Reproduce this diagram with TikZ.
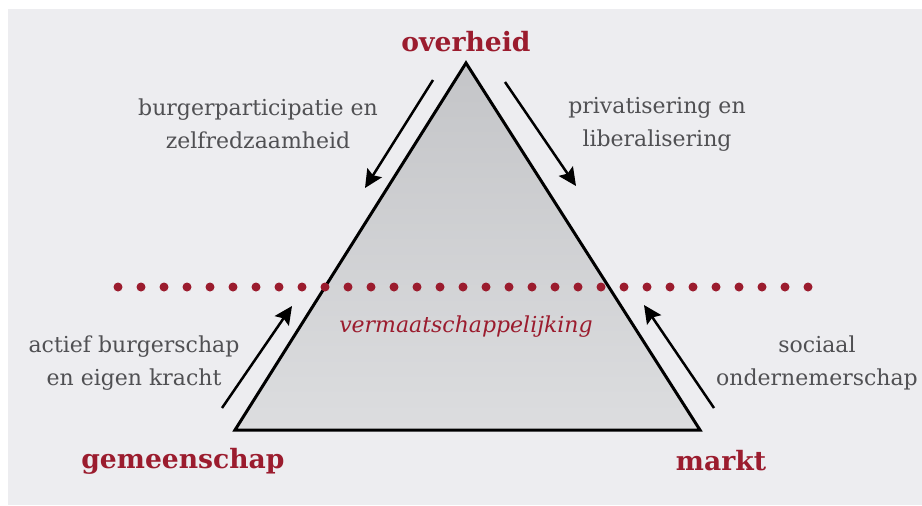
\documentclass[tikz,border=0pt]{standalone}
\usepackage{fontspec}
\setmainfont{DejaVu Serif}
\usetikzlibrary{arrows.meta}

\definecolor{bgray}{HTML}{EDEDF0}
\definecolor{wine}{HTML}{9B1C2E}
\definecolor{txtgray}{HTML}{505053}
\definecolor{tritop}{HTML}{C4C5C8}
\definecolor{tribot}{HTML}{DCDDDF}

\tikzset{
  pole/.style={text=wine, font=\fontsize{13.3}{16}\selectfont\bfseries},
  trend/.style={text=txtgray, font=\fontsize{11}{16.5}\selectfont, align=center},
  shift arrow/.style={line width=1.25pt, -{Stealth[length=9pt,width=8.5pt,inset=1.5pt]}},
  dot/.style={fill=wine}
}

\begin{document}
\begin{tikzpicture}[x=0.5pt,y=-0.5pt]
    % Canvas with white margin
    \useasboundingbox (0,0) rectangle (922,505);
    \fill[white] (0,0) rectangle (922,505);
    \fill[bgray] (8,9) rectangle (922,505);

    % Corners of the triangle
    \coordinate (top) at (466,63);
    \coordinate (left) at (235,430);
    \coordinate (right) at (700,430);

    % The triangle
    \shade[top color=tritop, bottom color=tribot] (top) -- (left) -- (right) -- cycle;
    \draw[line width=1.5pt, line join=miter] (top) -- (left) -- (right) -- cycle;

    % Dotted line across
    \foreach \i in {0,...,30}
        \fill[dot] (118+23*\i,287) circle (4.5);

    % Labels at the corners
    \node[pole] (overheid) at (466,42) {overheid};
    \node[pole] (gemeenschap) at (183,461) {gemeenschap};
    \node[pole] (markt) at (721,461) {markt};

    % Labels along the sides
    \node[trend] (burger) at (258,124) {burgerparticipatie en\\zelfredzaamheid};
    \node[trend] (privat) at (657,124) {privatisering en\\liberalisering};
    \node[trend] (actief) at (134,363) {actief burgerschap\\en eigen kracht};
    \node[trend] (sociaal) at (817,363) {sociaal\\ondernemerschap};
    \node[text=wine, font=\fontsize{11}{13}\selectfont\itshape] (vermaat) at (466,327) {vermaatschappelijking};

    % End points of the arrows
    \coordinate (a1s) at (433,80);
    \coordinate (a1e) at (365,188);
    \coordinate (a2s) at (505,82);
    \coordinate (a2e) at (576,186);
    \coordinate (a3s) at (222,408);
    \coordinate (a3e) at (292,306);
    \coordinate (a4s) at (714,408);
    \coordinate (a4e) at (644,305);

    % Arrows
    \draw[shift arrow] (a1s) -- (a1e);
    \draw[shift arrow] (a2s) -- (a2e);
    \draw[shift arrow] (a3s) -- (a3e);
    \draw[shift arrow] (a4s) -- (a4e);
\end{tikzpicture}
\end{document}
